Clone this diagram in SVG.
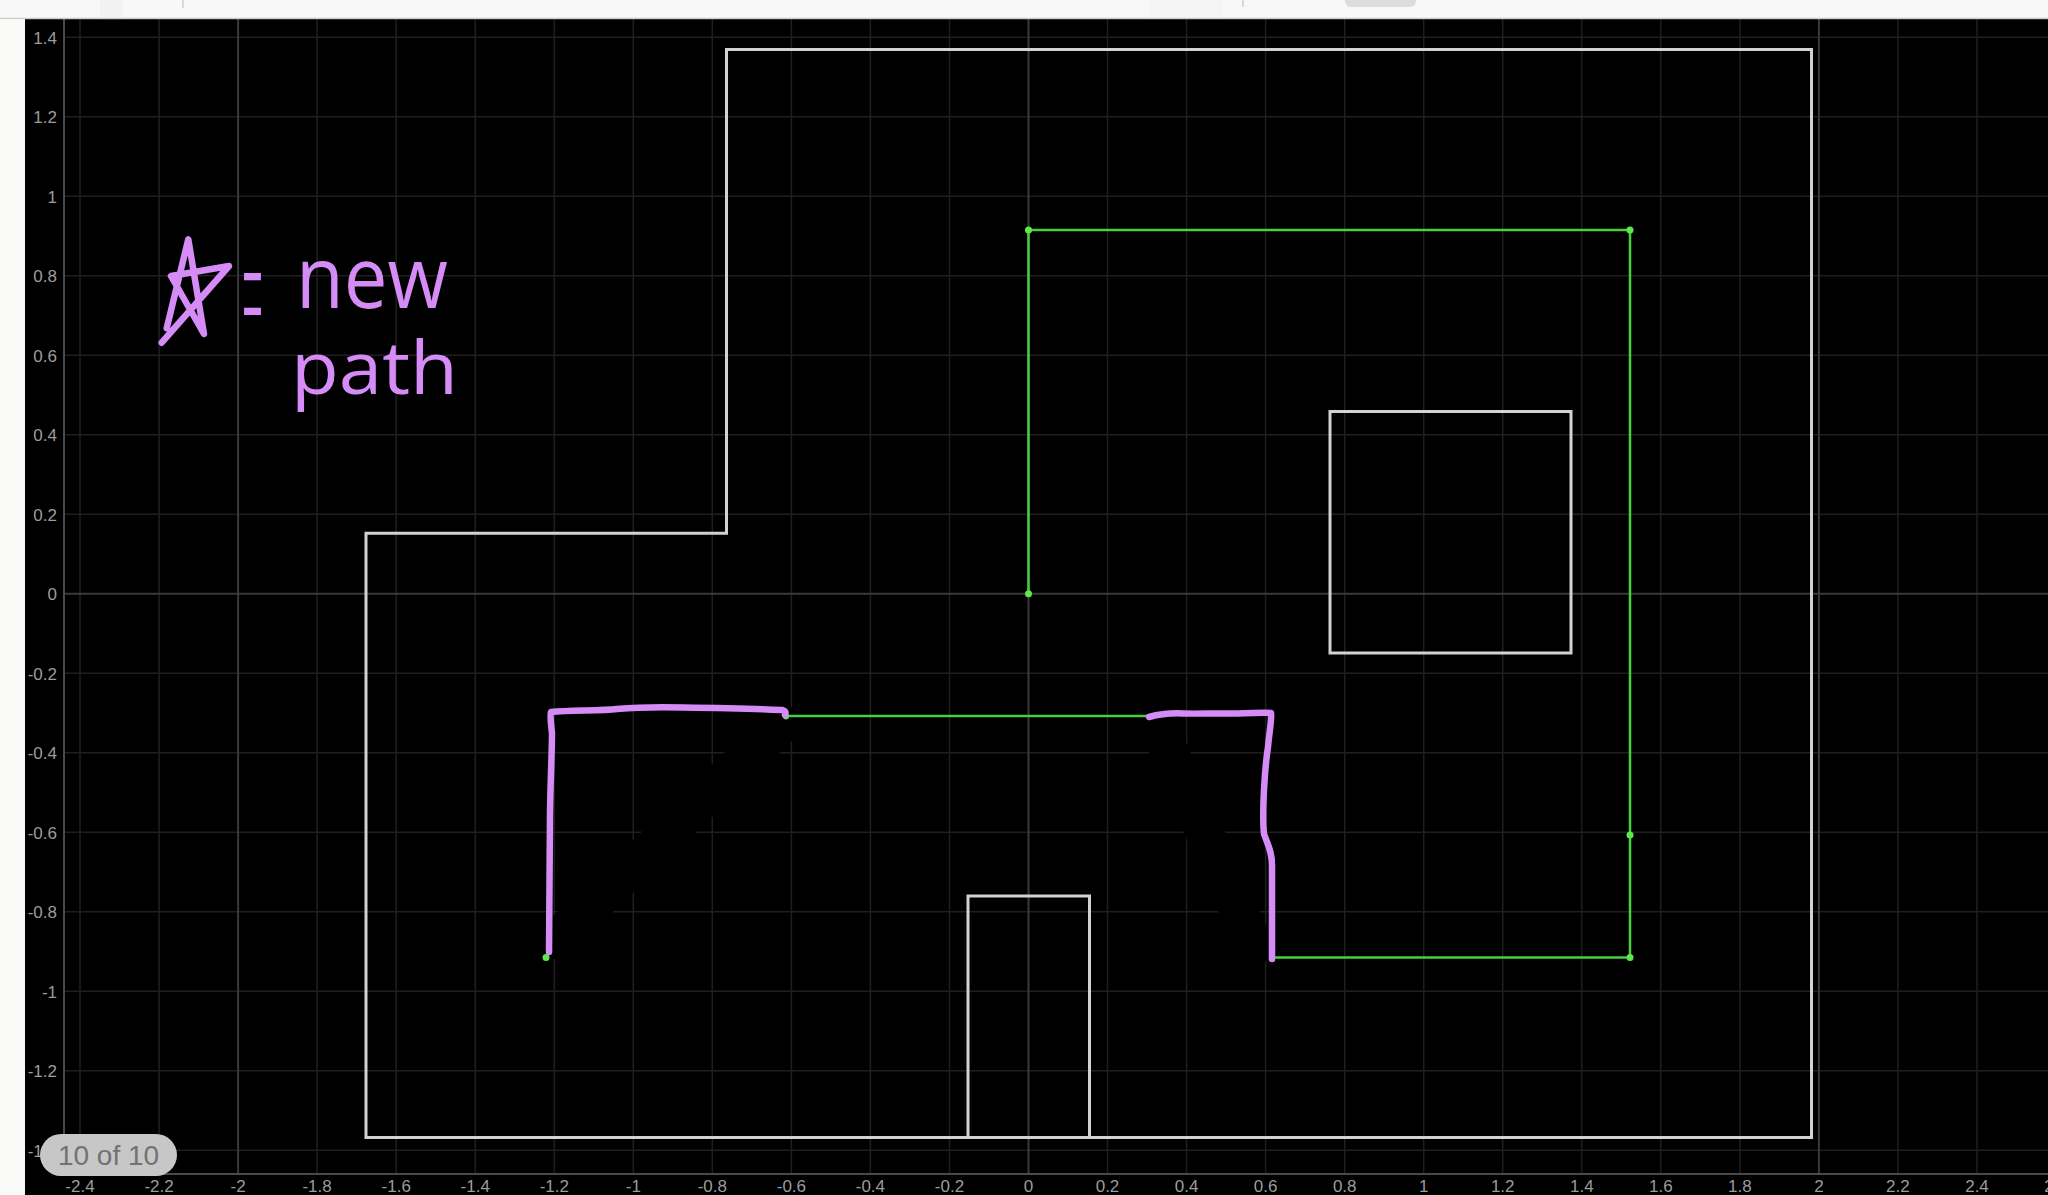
<svg xmlns="http://www.w3.org/2000/svg" width="2048" height="1195" viewBox="0 0 2048 1195">
<style>
.minor{stroke:#1f1f1f;stroke-width:1.5}
.major{stroke:#3a3a3a;stroke-width:2}
.axis{stroke:#4a4a4a;stroke-width:2}
.lbl{font-family:"Liberation Sans",Arial,sans-serif;font-size:17px;fill:#9c9c9c}
.ylbl{text-anchor:end}
.xlbl{text-anchor:middle}
.wall{fill:none;stroke:#d2d2d2;stroke-width:3}
.gpath{fill:none;stroke:#46cf3e;stroke-width:2.5}
.gdot{fill:#5ee84c}
.ink{fill:none;stroke:#d68cf7;stroke-width:6.5;stroke-linecap:round;stroke-linejoin:round}
.erase{fill:none;stroke:#000;stroke-width:38;stroke-linecap:round}
.hand{font-family:"Open Sans","DejaVu Sans",sans-serif;fill:#d68cf7}
</style>
<rect x="0" y="0" width="2048" height="1195" fill="#000"/>
<g id="grid">
<g class="minor">
<line x1="80" y1="19" x2="80" y2="1174"/><line x1="159.1" y1="19" x2="159.1" y2="1174"/><line x1="317.1" y1="19" x2="317.1" y2="1174"/><line x1="396.2" y1="19" x2="396.2" y2="1174"/><line x1="475.2" y1="19" x2="475.2" y2="1174"/><line x1="554.3" y1="19" x2="554.3" y2="1174"/><line x1="633.3" y1="19" x2="633.3" y2="1174"/><line x1="712.3" y1="19" x2="712.3" y2="1174"/><line x1="791.4" y1="19" x2="791.4" y2="1174"/><line x1="870.4" y1="19" x2="870.4" y2="1174"/><line x1="949.5" y1="19" x2="949.5" y2="1174"/><line x1="1107.5" y1="19" x2="1107.5" y2="1174"/><line x1="1186.6" y1="19" x2="1186.6" y2="1174"/><line x1="1265.6" y1="19" x2="1265.6" y2="1174"/><line x1="1344.7" y1="19" x2="1344.7" y2="1174"/><line x1="1423.7" y1="19" x2="1423.7" y2="1174"/><line x1="1502.7" y1="19" x2="1502.7" y2="1174"/><line x1="1581.8" y1="19" x2="1581.8" y2="1174"/><line x1="1660.8" y1="19" x2="1660.8" y2="1174"/><line x1="1739.9" y1="19" x2="1739.9" y2="1174"/><line x1="1897.9" y1="19" x2="1897.9" y2="1174"/><line x1="1977" y1="19" x2="1977" y2="1174"/>
<line x1="64" y1="37.2" x2="2048" y2="37.2"/><line x1="64" y1="116.7" x2="2048" y2="116.7"/><line x1="64" y1="196.2" x2="2048" y2="196.2"/><line x1="64" y1="275.7" x2="2048" y2="275.7"/><line x1="64" y1="355.2" x2="2048" y2="355.2"/><line x1="64" y1="434.7" x2="2048" y2="434.7"/><line x1="64" y1="514.2" x2="2048" y2="514.2"/><line x1="64" y1="673.2" x2="2048" y2="673.2"/><line x1="64" y1="752.7" x2="2048" y2="752.7"/><line x1="64" y1="832.2" x2="2048" y2="832.2"/><line x1="64" y1="911.7" x2="2048" y2="911.7"/><line x1="64" y1="991.2" x2="2048" y2="991.2"/><line x1="64" y1="1070.7" x2="2048" y2="1070.7"/><line x1="64" y1="1150.2" x2="2048" y2="1150.2"/>
</g>
<g class="major">
<line x1="238.1" y1="19" x2="238.1" y2="1174"/><line x1="1028.5" y1="19" x2="1028.5" y2="1174"/><line x1="1818.9" y1="19" x2="1818.9" y2="1174"/>
<line x1="64" y1="593.7" x2="2048" y2="593.7"/>
</g>
<g class="axis">
<line x1="64" y1="19" x2="64" y2="1174"/><line x1="64" y1="1174" x2="2048" y2="1174"/>
</g>
</g>
<g id="erasures">
<path class="erase" d="M 556 940 L 782 724"/>
<path class="erase" d="M 1162 735 L 1254 946"/>
</g>
<g id="y-labels" class="lbl ylbl">
<text x="57" y="43.5">1.4</text><text x="57" y="123">1.2</text><text x="57" y="202.5">1</text><text x="57" y="282">0.8</text><text x="57" y="361.5">0.6</text><text x="57" y="441">0.4</text><text x="57" y="520.5">0.2</text><text x="57" y="600">0</text><text x="57" y="679.5">-0.2</text><text x="57" y="759">-0.4</text><text x="57" y="838.5">-0.6</text><text x="57" y="918">-0.8</text><text x="57" y="997.5">-1</text><text x="57" y="1077">-1.2</text><text x="57" y="1156.5">-1.4</text>
</g>
<g id="x-labels" class="lbl xlbl">
<text x="80" y="1192">-2.4</text><text x="159.1" y="1192">-2.2</text><text x="238.1" y="1192">-2</text><text x="317.1" y="1192">-1.8</text><text x="396.2" y="1192">-1.6</text><text x="475.2" y="1192">-1.4</text><text x="554.3" y="1192">-1.2</text><text x="633.3" y="1192">-1</text><text x="712.3" y="1192">-0.8</text><text x="791.4" y="1192">-0.6</text><text x="870.4" y="1192">-0.4</text><text x="949.5" y="1192">-0.2</text><text x="1028.5" y="1192">0</text><text x="1107.5" y="1192">0.2</text><text x="1186.6" y="1192">0.4</text><text x="1265.6" y="1192">0.6</text><text x="1344.7" y="1192">0.8</text><text x="1423.7" y="1192">1</text><text x="1502.7" y="1192">1.2</text><text x="1581.8" y="1192">1.4</text><text x="1660.8" y="1192">1.6</text><text x="1739.9" y="1192">1.8</text><text x="1818.9" y="1192">2</text><text x="1897.9" y="1192">2.2</text><text x="1977" y="1192">2.4</text><text x="2056" y="1192">2.6</text>
</g>
<g id="field-outline">
<path class="wall" d="M 726.5 49.5 L 1811.5 49.5 L 1811.5 1137.5 L 366 1137.5 L 366 533.3 L 726.5 533.3 Z"/>
</g>
<g id="obstacle-square">
<rect class="wall" x="1330" y="411.5" width="241" height="241.5"/>
</g>
<g id="obstacle-bottom">
<path class="wall" d="M 968 1137.5 L 968 896 L 1089.5 896 L 1089.5 1137.5"/>
</g>
<g id="connectors">
<path class="gpath" d="M 1028.5 593.7 L 1028.5 230 L 1630 230 L 1630 957.5 L 1271 957.5"/>
<path class="gpath" d="M 786 716 L 1150 716"/>
<path class="gpath" d="M 546 957.5 L 549 950"/>
</g>
<g id="waypoints">
<circle class="gdot" cx="1028.5" cy="593.7" r="3.5"/>
<circle class="gdot" cx="1028.5" cy="230" r="3.5"/>
<circle class="gdot" cx="1630" cy="230" r="3.5"/>
<circle class="gdot" cx="1630" cy="835" r="3.5"/>
<circle class="gdot" cx="1630" cy="957.5" r="3.5"/>
<circle class="gdot" cx="546" cy="957.5" r="3.5"/>
<circle class="gdot" cx="786" cy="716.5" r="3"/>
</g>
<g id="new-path-left">
<path class="ink" d="M 549 952 C 549.5 900 550 850 550 813 C 550.5 780 552 750 552 733 C 551 725 550 716 551 712 C 570 710 600 711 617 709 C 640 707 665 707 683 707.5 C 720 708 760 709 782 710 C 786 711 786 713 785 715"/>
</g>
<g id="new-path-right">
<path class="ink" d="M 1149 717 C 1160 714 1172 713 1183 713.5 C 1200 714 1218 713 1233 713.5 C 1248 714 1262 712 1271 713 C 1272 718 1269 735 1268 747 C 1266 760 1265 770 1264 790 C 1263 810 1263 825 1264 834 C 1268 845 1272 852 1272 865 C 1272 900 1272 935 1272 959"/>
</g>
<g id="legend-note">
<path class="ink" d="M 166.7 328.3 L 188.3 239.3 L 204 334 L 171 276 L 229 266 L 161.7 342.7"/>
<text class="hand" x="242" y="355" font-size="172" textLength="21" lengthAdjust="spacingAndGlyphs" font-weight="300">=</text>
<text class="hand" x="296" y="308" font-size="86" textLength="152" lengthAdjust="spacingAndGlyphs">new</text>
<text class="hand" x="291" y="394" font-size="74" textLength="167" lengthAdjust="spacingAndGlyphs">path</text>
</g>
<g id="chrome">
<rect x="0" y="0" width="2048" height="18" fill="#f8f8f8"/>
<line x1="0" y1="18.5" x2="2048" y2="18.5" stroke="#c9c9c9" stroke-width="1.5"/>
<rect x="100" y="0" width="22" height="17" fill="#f2f2f2"/>
<line x1="183" y1="0" x2="183" y2="8" stroke="#cfcfcf" stroke-width="1.5"/>
<rect x="1150" y="0" width="72" height="17" fill="#f5f5f5"/>
<line x1="1243" y1="0" x2="1243" y2="7" stroke="#cfcfcf" stroke-width="1.5"/>
<rect x="1345" y="-8" width="71" height="15" rx="6" fill="#dcdcdf"/>
<rect x="0" y="19" width="25" height="1176" fill="#f9f9f7"/>
</g>
<g id="counter-badge">
<rect x="40" y="1134" width="137" height="42" rx="21" fill="#c7c7c7"/>
<text x="108.5" y="1165" font-family="'Liberation Sans',Arial,sans-serif" font-size="28" fill="#727272" text-anchor="middle">10 of 10</text>
</g>
</svg>
